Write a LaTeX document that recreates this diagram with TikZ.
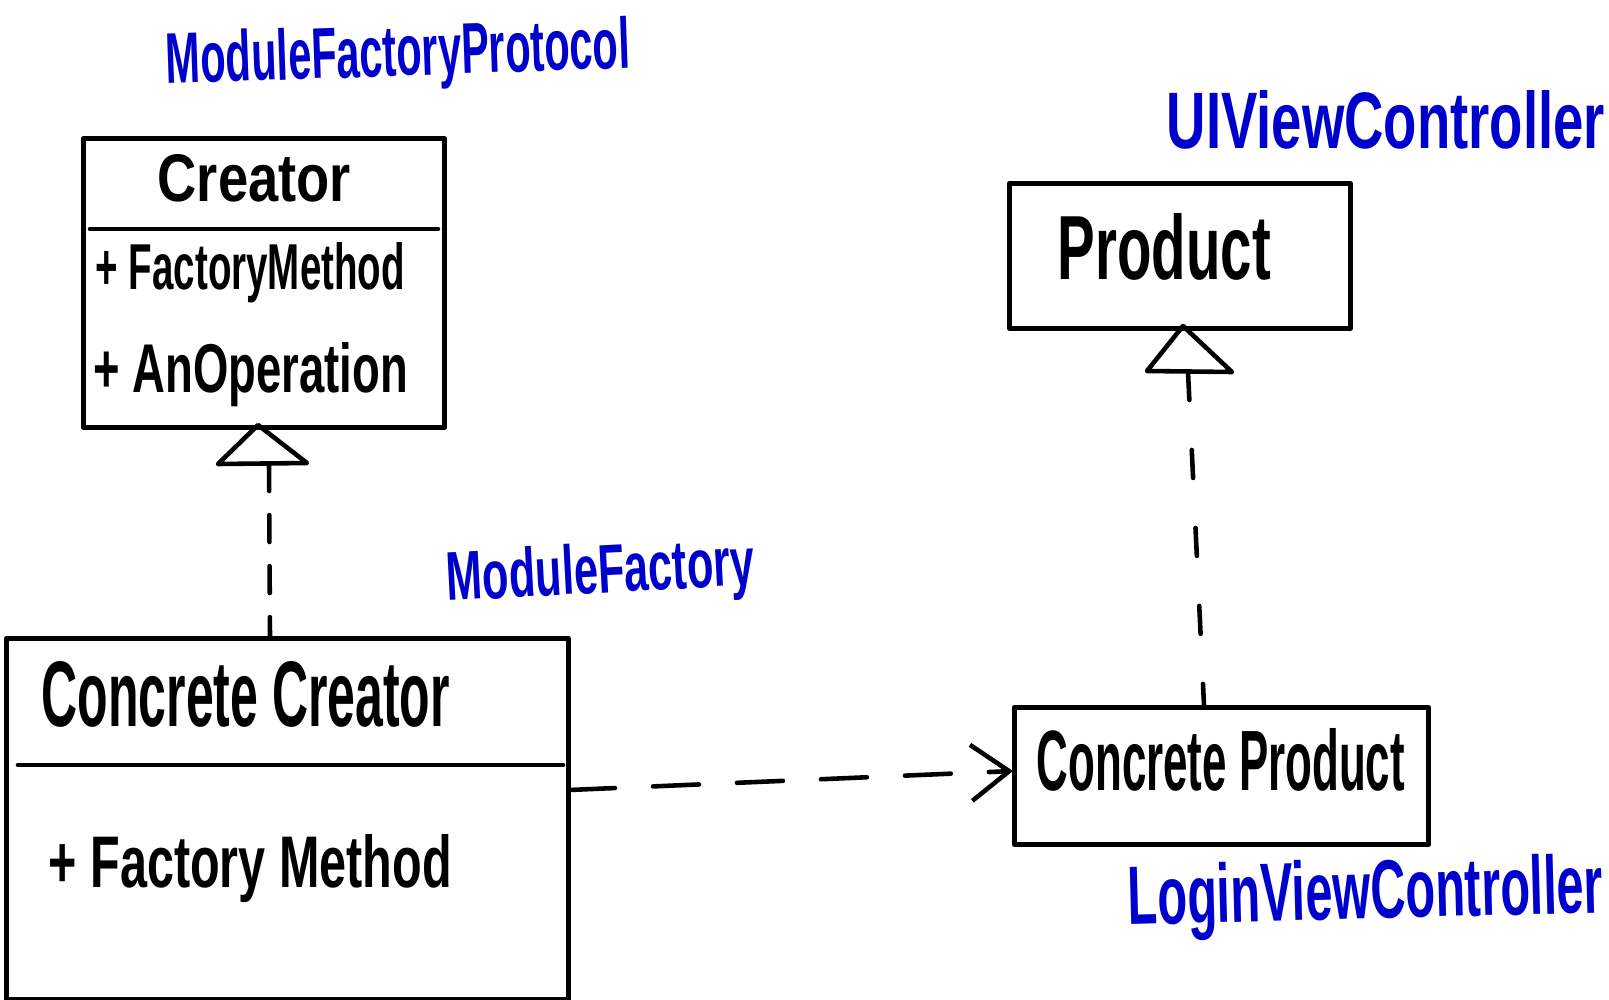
\documentclass[tikz,border=0pt]{standalone}
\usepackage{fontspec}
\setmainfont{Liberation Sans}
\usepackage{graphicx}
\usetikzlibrary{arrows.meta}
\definecolor{penblue}{RGB}{0,0,204}
\begin{document}
\begin{tikzpicture}[x=0.01cm,y=-0.01cm,
  pen/.style={line width=1.3pt, line cap=round, line join=round},
  umlbox/.style={draw, pen, inner sep=0pt, anchor=north west},
  txt/.style={inner sep=0pt, anchor=base west, font=\bfseries},
  note/.style={txt, text=penblue},
  dashcr/.style={pen, dash pattern=on 0.27cm off 0.24cm},
  dashpr/.style={pen, dash pattern=on 0.28cm off 0.5cm},
  dashuse/.style={pen, dash pattern=on 0.46cm off 0.38cm,
    -{Straight Barb[length=0.38cm,width=0.56cm,line width=1.3pt]}},
]
\useasboundingbox (0,0) rectangle (1609,1000);

% boxes
\node[umlbox, minimum width=3.61cm, minimum height=2.89cm] (creator) at (81,136) {};
\node[umlbox, minimum width=3.41cm, minimum height=1.45cm] (product) at (1007,181) {};
\node[umlbox, minimum width=5.62cm, minimum height=3.61cm] (ccreator) at (4,636) {};
\node[umlbox, minimum width=4.14cm, minimum height=1.37cm] (cproduct) at (1012,705) {};

% compartment dividers
\draw[pen] (90,229) -- (438,229);
\draw[pen] (18,765) -- (563,765);

% texts in boxes
\node[txt] (creatorname) at (157,202) {\resizebox{1.93cm}{0.47cm}{Creator}};
\node[txt] (crop1) at (95,289) {\resizebox{3.09cm}{0.47cm}{+ FactoryMethod}};
\node[txt] (crop2) at (93,392) {\resizebox{3.14cm}{0.50cm}{+ AnOperation}};
\node[txt] (productname) at (1057,279) {\resizebox{2.13cm}{0.66cm}{Product}};
\node[txt] (ccname) at (41,726) {\resizebox{4.08cm}{0.65cm}{Concrete Creator}};
\node[txt] (ccop) at (48,887) {\resizebox{4.03cm}{0.53cm}{+ Factory Method}};
\node[txt] (cpname) at (1036,790) {\resizebox{3.68cm}{0.62cm}{Concrete Product}};

% blue notes
\node[note, rotate=2] (mfp) at (166,84) {\resizebox{4.64cm}{0.52cm}{ModuleFactoryProtocol}};
\node[note] (uivc) at (1166,148) {\resizebox{4.38cm}{0.58cm}{UIViewController}};
\node[note, rotate=3] (mf) at (447,601) {\resizebox{3.08cm}{0.50cm}{ModuleFactory}};
\node[note, rotate=1.5] (lvc) at (1128,925) {\resizebox{4.75cm}{0.60cm}{LoginViewController}};

% realization: ConcreteCreator -> Creator
\coordinate (crApex) at (258,425);
\coordinate (crBaseL) at (218,464);
\coordinate (crBaseR) at (307,463);
\coordinate (crStem) at (269,464);
\coordinate (ccTop) at (270,637);
\draw[pen] (crApex) -- (crBaseR) -- (crBaseL) -- cycle;
\draw[dashcr] (crStem) -- (ccTop);

% realization: ConcreteProduct -> Product
\coordinate (prApex) at (1183,326);
\coordinate (prBaseL) at (1147,371);
\coordinate (prBaseR) at (1232,372);
\coordinate (prStem) at (1188,372);
\coordinate (cpTop) at (1204,705);
\draw[pen] (prApex) -- (prBaseR) -- (prBaseL) -- cycle;
\draw[dashpr] (prStem) -- (cpTop);

% dependency: ConcreteCreator -> ConcreteProduct
\coordinate (ccRight) at (569,790);
\coordinate (cpLeft) at (1013,771);
\draw[dashuse] (ccRight) -- (cpLeft);
\end{tikzpicture}
\end{document}
